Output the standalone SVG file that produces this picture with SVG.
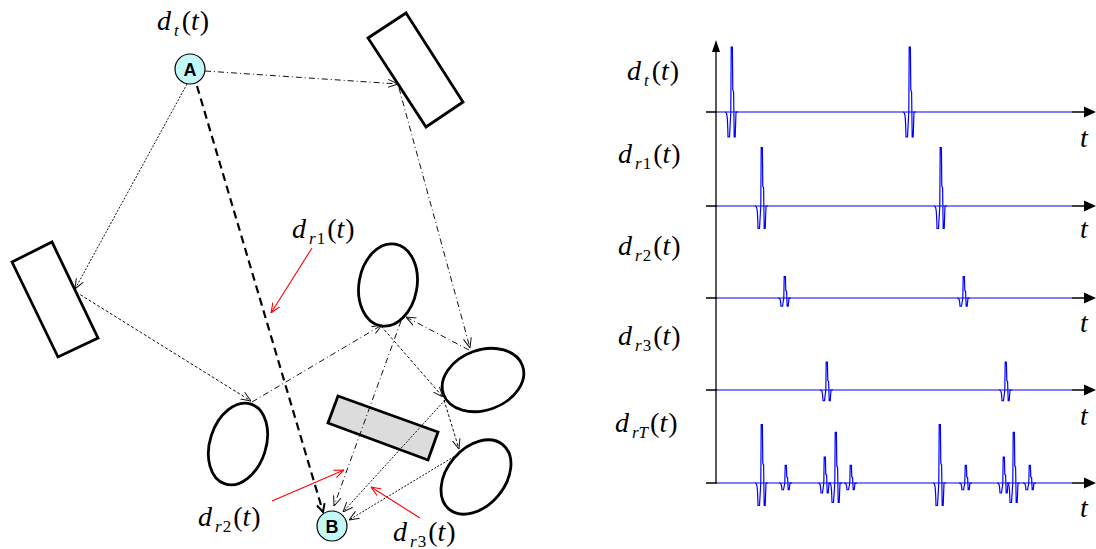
<svg xmlns="http://www.w3.org/2000/svg" xmlns:xlink="http://www.w3.org/1999/xlink" width="1096" height="549" viewBox="0 0 1096 549">
<style>
.lbl{font-family:"Liberation Serif","Times New Roman",serif;font-style:italic;font-size:28px;fill:#000}
.up{font-style:normal}
.sub{font-size:17px}
.obj{fill:#fff;stroke:#000;stroke-width:2.8}
.node circle{fill:#c4f7f7;stroke:#000;stroke-width:1.2}
.node text{font-family:"Liberation Sans",Arial,sans-serif;font-weight:bold;font-size:18px;text-anchor:middle;fill:#000}
.c line{fill:none;stroke:#111;stroke-width:1;marker-end:url(#ah)}
.dot{stroke-dasharray:2 1.5}
.dsh{stroke-dasharray:3 2}
.dd{stroke-dasharray:6 3 1 3}
.red line{stroke:#ff0000;stroke-width:1.1;marker-end:url(#ahr)}
.ax{stroke:#000;stroke-width:1.3;fill:none}
.wave{stroke:#0000ff;stroke-width:1.2;fill:none}
</style>
<defs>
<marker id="ah" viewBox="0 0 10 10" refX="10" refY="5" markerWidth="10" markerHeight="10" markerUnits="userSpaceOnUse" orient="auto"><path d="M0,1 L10,5 L0,9" fill="none" stroke="#111" stroke-width="1" stroke-dasharray="none"/></marker>
<marker id="ahb" viewBox="0 0 10 10" refX="9" refY="5" markerWidth="10" markerHeight="10" markerUnits="userSpaceOnUse" orient="auto"><path d="M1,1 L9,5 L1,9" fill="none" stroke="#000" stroke-width="2" stroke-dasharray="none"/></marker>
<marker id="ahr" viewBox="0 0 10 10" refX="10" refY="5" markerWidth="10" markerHeight="10" markerUnits="userSpaceOnUse" orient="auto"><path d="M0,1 L10,5 L0,9" fill="none" stroke="#ff0000" stroke-width="1.1" stroke-dasharray="none"/></marker>
<path id="pulse" d="M-7,0 C-5,0 -4.5,2 -4,25 L-2.5,25 L-1.2,0 L-0.8,-65 L0.4,-65 L0.8,-22 L1.6,-20 L2.2,25 L3.2,25 L4,0 L6,0" fill="none" stroke="#0000ff" stroke-width="1.2" vector-effect="non-scaling-stroke"/>
</defs>
<rect width="1096" height="549" fill="#fff"/>

<!-- scene objects -->
<polygon id="wall-top" class="obj" points="368,38 406,13 463,102 426,127"/>
<polygon id="wall-left" class="obj" points="12,262 52,242 98,338 58,357"/>
<polygon id="block-gray" class="obj" style="fill:#dcdcdc" points="338,396 438,432 428,460 328,423"/>
<ellipse id="scat-1" class="obj" cx="388" cy="285" rx="29" ry="41.5" transform="rotate(10 388 285)"/>
<ellipse id="scat-2" class="obj" cx="483" cy="380" rx="42" ry="30" transform="rotate(-20 483 380)"/>
<ellipse id="scat-3" class="obj" cx="476" cy="477" rx="29" ry="42" transform="rotate(40 476 477)"/>
<ellipse id="scat-4" class="obj" cx="238" cy="444" rx="28" ry="42" transform="rotate(18 238 444)"/>

<!-- connectors -->
<g id="connectors" class="c">
<line class="dd" x1="205" y1="71" x2="398" y2="84"/>
<line class="dd" x1="399" y1="88" x2="470" y2="348"/>
<line class="dot" x1="187" y1="84" x2="75" y2="289"/>
<line class="dsh" x1="76" y1="292" x2="251" y2="401"/>
<line class="dd" x1="252" y1="402" x2="382" y2="325"/>
<line class="dsh" x1="381" y1="326" x2="443" y2="397"/>
<line class="dd" x1="469" y1="350" x2="406" y2="317"/>
<line class="dsh" x1="444" y1="400" x2="459" y2="449"/>
<line class="dd" x1="401" y1="321" x2="334" y2="506"/>
<line class="dot" x1="445" y1="400" x2="343" y2="512"/>
<line class="dot" x1="460" y1="453" x2="349" y2="520"/>
<line x1="197" y1="86" x2="323" y2="512" style="stroke:#000;stroke-width:2.2;stroke-dasharray:8 5;marker-end:url(#ahb)"/>
</g>
<g id="pointers" class="red">
<line x1="312" y1="248" x2="271" y2="313"/>
<line x1="272" y1="501" x2="344" y2="470"/>
<line x1="420" y1="518" x2="371" y2="487"/>
</g>

<!-- nodes -->
<g id="node-A" class="node"><circle cx="190" cy="69" r="15"/><text x="190" y="75.5">A</text></g>
<g id="node-B" class="node"><circle cx="332" cy="526" r="15"/><text x="332" y="532.5">B</text></g>

<!-- left labels -->
<text class="lbl" x="157" y="30">d<tspan class="sub" dx="3" dy="6">t</tspan><tspan class="up" dx="3" dy="-6">(</tspan>t<tspan class="up" dx="1">)</tspan></text>
<text class="lbl" x="292" y="238">d<tspan class="sub" dx="3" dy="6">r<tspan class="up" dx="1">1</tspan></tspan><tspan class="up" dx="2" dy="-6">(</tspan>t<tspan class="up" dx="1">)</tspan></text>
<text class="lbl" x="198" y="526">d<tspan class="sub" dx="3" dy="6">r<tspan class="up" dx="1">2</tspan></tspan><tspan class="up" dx="2" dy="-6">(</tspan>t<tspan class="up" dx="1">)</tspan></text>
<text class="lbl" x="393" y="541">d<tspan class="sub" dx="3" dy="6">r<tspan class="up" dx="1">3</tspan></tspan><tspan class="up" dx="2" dy="-6">(</tspan>t<tspan class="up" dx="1">)</tspan></text>

<!-- right panel axes -->
<g id="axes">
<line class="ax" x1="716" y1="483" x2="716" y2="50"/>
<polygon points="716,40 712,52 720,52" fill="#000"/>
<path class="ax" d="M706,112 H717 M1072,112 H1086 M706,206 H717 M1072,206 H1086 M706,298 H717 M1072,298 H1086 M706,390 H717 M1072,390 H1086 M706,483 H717 M1072,483 H1086"/>
<polygon points="1096,112 1084,106.5 1084,117.5" fill="#000"/>
<polygon points="1096,206 1084,200.5 1084,211.5" fill="#000"/>
<polygon points="1096,298 1084,292.5 1084,303.5" fill="#000"/>
<polygon points="1096,390 1084,384.5 1084,395.5" fill="#000"/>
<polygon points="1096,483 1084,477.5 1084,488.5" fill="#000"/>
</g>

<!-- waveforms -->
<g id="waves">
<line class="wave" x1="717" y1="112" x2="1072" y2="112"/>
<line class="wave" x1="717" y1="206" x2="1072" y2="206"/>
<line class="wave" x1="717" y1="298" x2="1072" y2="298"/>
<line class="wave" x1="717" y1="390" x2="1072" y2="390"/>
<line class="wave" x1="717" y1="483" x2="1072" y2="483"/>
<use xlink:href="#pulse" transform="translate(732,112)"/>
<use xlink:href="#pulse" transform="translate(910,112)"/>
<use xlink:href="#pulse" transform="translate(762,206) scale(1,0.9)"/>
<use xlink:href="#pulse" transform="translate(941,206) scale(1,0.9)"/>
<use xlink:href="#pulse" transform="translate(785,298) scale(1,0.33)"/>
<use xlink:href="#pulse" transform="translate(964,298) scale(1,0.33)"/>
<use xlink:href="#pulse" transform="translate(827,390) scale(1,0.43)"/>
<use xlink:href="#pulse" transform="translate(1006,390) scale(1,0.43)"/>
<use xlink:href="#pulse" transform="translate(762,483) scale(1,0.9)"/>
<use xlink:href="#pulse" transform="translate(786,483) scale(1,0.27)"/>
<use xlink:href="#pulse" transform="translate(825,483) scale(1,0.4)"/>
<use xlink:href="#pulse" transform="translate(836,483) scale(1,0.78)"/>
<use xlink:href="#pulse" transform="translate(851,483) scale(1,0.27)"/>
<use xlink:href="#pulse" transform="translate(940,483) scale(1,0.9)"/>
<use xlink:href="#pulse" transform="translate(966,483) scale(1,0.27)"/>
<use xlink:href="#pulse" transform="translate(1004,483) scale(1,0.4)"/>
<use xlink:href="#pulse" transform="translate(1014,483) scale(1,0.78)"/>
<use xlink:href="#pulse" transform="translate(1030,483) scale(1,0.27)"/>
</g>

<!-- right labels -->
<text class="lbl" x="627" y="80">d<tspan class="sub" dx="3" dy="6">t</tspan><tspan class="up" dx="3" dy="-6">(</tspan>t<tspan class="up" dx="1">)</tspan></text>
<text class="lbl" x="618" y="163">d<tspan class="sub" dx="3" dy="6">r<tspan class="up" dx="1">1</tspan></tspan><tspan class="up" dx="2" dy="-6">(</tspan>t<tspan class="up" dx="1">)</tspan></text>
<text class="lbl" x="618" y="255">d<tspan class="sub" dx="3" dy="6">r<tspan class="up" dx="1">2</tspan></tspan><tspan class="up" dx="2" dy="-6">(</tspan>t<tspan class="up" dx="1">)</tspan></text>
<text class="lbl" x="618" y="345">d<tspan class="sub" dx="3" dy="6">r<tspan class="up" dx="1">3</tspan></tspan><tspan class="up" dx="2" dy="-6">(</tspan>t<tspan class="up" dx="1">)</tspan></text>
<text class="lbl" x="615" y="432">d<tspan class="sub" dx="3" dy="6">rT</tspan><tspan class="up" dx="2" dy="-6">(</tspan>t<tspan class="up" dx="1">)</tspan></text>
<text class="lbl" x="1080" y="147">t</text>
<text class="lbl" x="1080" y="238">t</text>
<text class="lbl" x="1080" y="332">t</text>
<text class="lbl" x="1080" y="425">t</text>
<text class="lbl" x="1080" y="517">t</text>
</svg>
